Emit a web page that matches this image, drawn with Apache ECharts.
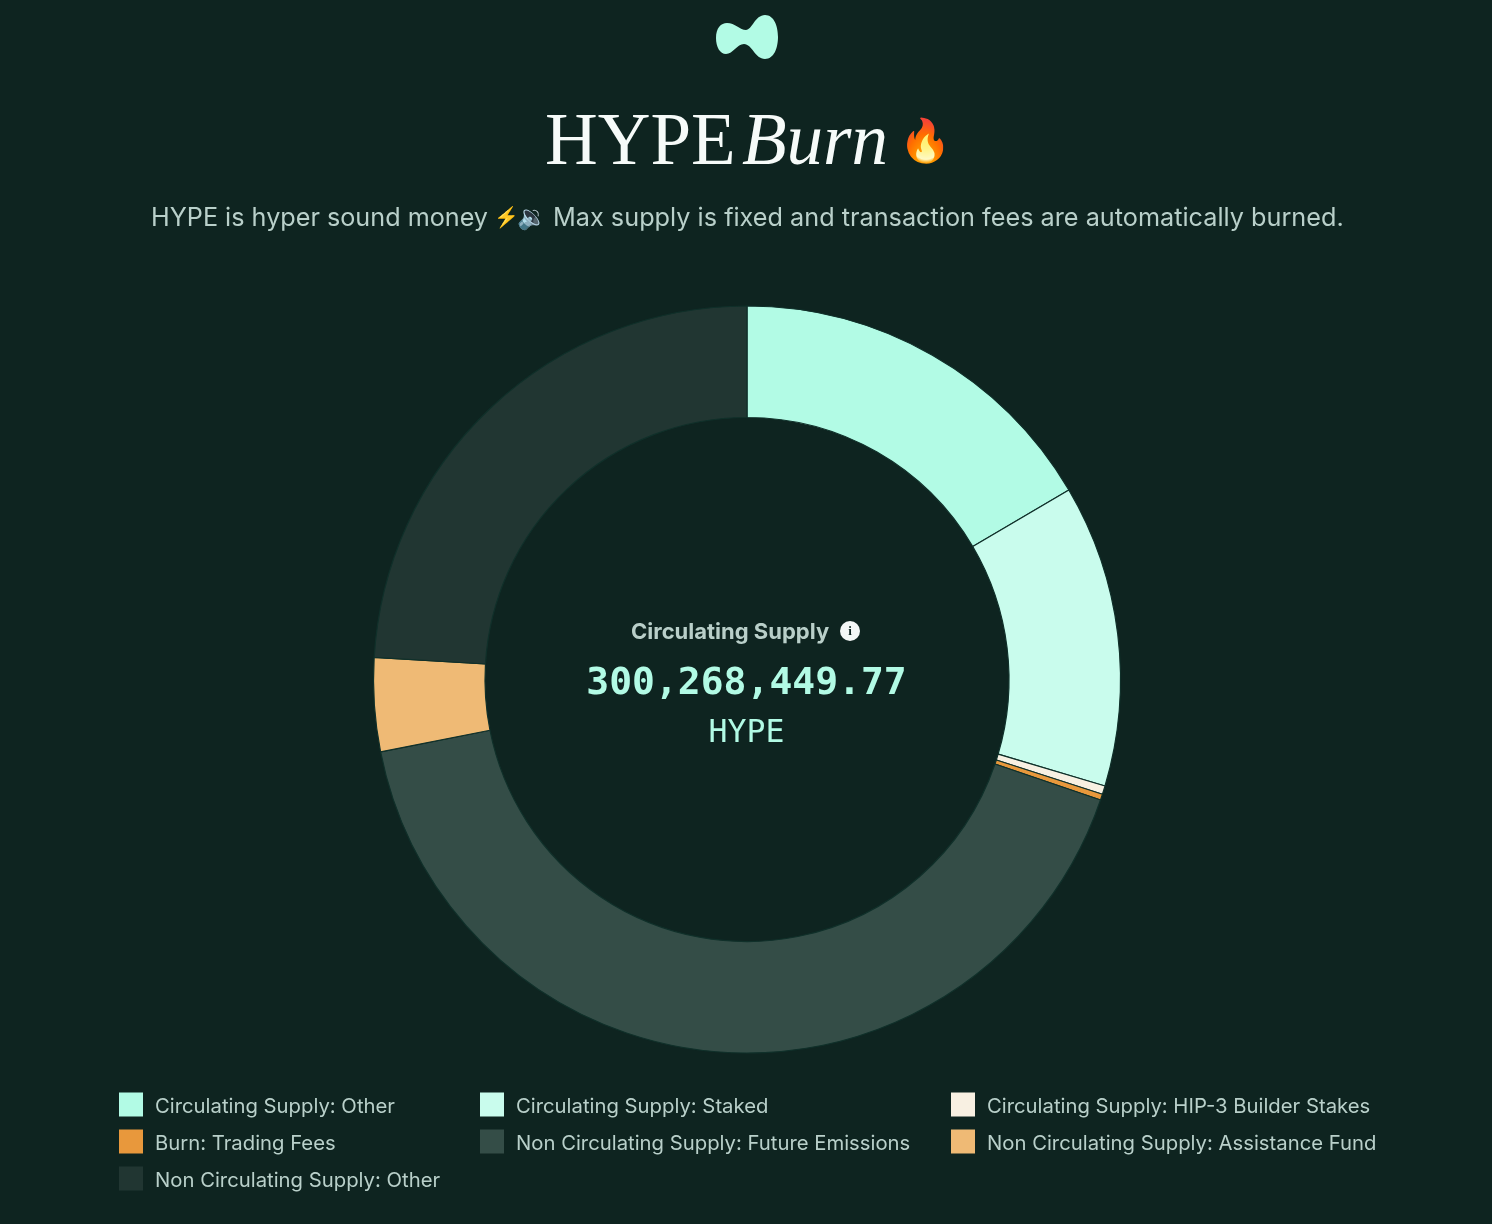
<!DOCTYPE html>
<html><head><meta charset="utf-8">
<style>html,body{margin:0;padding:0;background:#0e2420}#c{width:1492px;height:1224px}</style>
<script src="https://cdn.jsdelivr.net/npm/echarts@6/dist/echarts.min.js"></script>
</head><body><div id="c"></div>
<script>
const categories = ["Circulating Supply: Other","Circulating Supply: Staked","Circulating Supply: HIP-3 Builder Stakes","Burn: Trading Fees","Non Circulating Supply: Future Emissions","Non Circulating Supply: Assistance Fund","Non Circulating Supply: Other"];
const values = [165.3, 130.7, 3.7, 2.6, 416.67, 40.45, 240.58];
const colors = ["#b2fbe5","#c9fced","#f8f0e2","#e8983c","#344d47","#efba75","#213632"];
const legendColumns = [[0,3,6],[1,4],[2,5]];
const legendLeft = [119,480,951];
const BG="#0e2420";
const LogoShape = echarts.graphic.extendShape({
 shape:{},
 buildPath(ctx){
  ctx.moveTo(716,38);
  ctx.bezierCurveTo(716,28,721,23,727,23);
  ctx.bezierCurveTo(735,23,740,30,746,30);
  ctx.bezierCurveTo(752,30,755,15,765,15);
  ctx.bezierCurveTo(774,15,778,26,778,37);
  ctx.bezierCurveTo(778,48,774,59,765,59);
  ctx.bezierCurveTo(755,59,752,44,744,44);
  ctx.bezierCurveTo(737,44,733,54,726,54);
  ctx.bezierCurveTo(720,54,716,47,716,38);
  ctx.closePath();
 }
});
echarts.graphic.registerShape('hypeLogo',LogoShape);
const chart = echarts.init(document.getElementById('c'),null,{renderer:'canvas'});
const t=(text,x,y,font,fill,align)=>({type:'text',x,y,silent:true,style:{text,font,fill,textAlign:align||'left',textVerticalAlign:'middle'}});
chart.setOption({
 backgroundColor:BG,animation:false,
 tooltip:{show:false},
 legend:legendColumns.map((ix,i)=>({
  orient:'vertical',left:legendLeft[i],top:1092,padding:0,itemWidth:24,itemHeight:24,itemGap:12,
  selectedMode:false,icon:'rect',
  itemStyle:{borderWidth:0},
  data:ix.map(k=>categories[k]),
  formatter:'{a|{name}}',
  textStyle:{color:"#b9d0ca",fontSize:20.3,fontFamily:"Inter",
   rich:{a:{color:"#b9d0ca",fontSize:20.3,fontFamily:"Inter",lineHeight:19,padding:[5,0,0,7]}}}
 })),
 series:[{type:'pie',center:[747,679.5],radius:[262,373.5],startAngle:90,clockwise:true,
  label:{show:false},labelLine:{show:false},silent:true,minAngle:0,
  itemStyle:{borderColor:"#10302a",borderWidth:1.2},
  data:categories.map((name,i)=>({name,value:values[i],itemStyle:{color:colors[i]}}))}],
 graphic:[
  {type:'hypeLogo',silent:true,shape:{},style:{fill:"#b2fbe5"}},
  t("HYPE",545,145,"73px 'Liberation Serif'","#f6fbf9"),
  t("Burn",742,145,"italic 73px 'Liberation Serif'","#f6fbf9"),
  t("🔥",926,143,"42px 'Noto Color Emoji','Noto Sans'","#e8763c",'center'),
  t("HYPE is hyper sound money",151,218,"25.2px Inter","#b9d0ca"),
  t("⚡",507,218,"20px 'Noto Color Emoji','Noto Sans'","#f4c430",'center'),
  t("🔉",532,218,"24px 'Noto Color Emoji','Noto Sans'","#8a9a96",'center'),
  t("Max supply is fixed and transaction fees are automatically burned.",553,218,"25.25px Inter","#b9d0ca"),
  t("Circulating Supply",631,632,"bold 22px Inter","#b9cfc9"),
  {type:'circle',silent:true,shape:{cx:850,cy:631,r:10},style:{fill:"#f4f8f7"}},
  t("i",850,631.5,"bold 13px 'Liberation Serif'","#0e2420",'center'),
  t("300,268,449.77",746.5,684,"bold 38px 'DejaVu Sans Mono'","#b2fbe5",'center'),
  t("HYPE",746.5,734,"31.5px 'DejaVu Sans Mono'","#b2fbe5",'center')
 ]
});
</script></body></html>
